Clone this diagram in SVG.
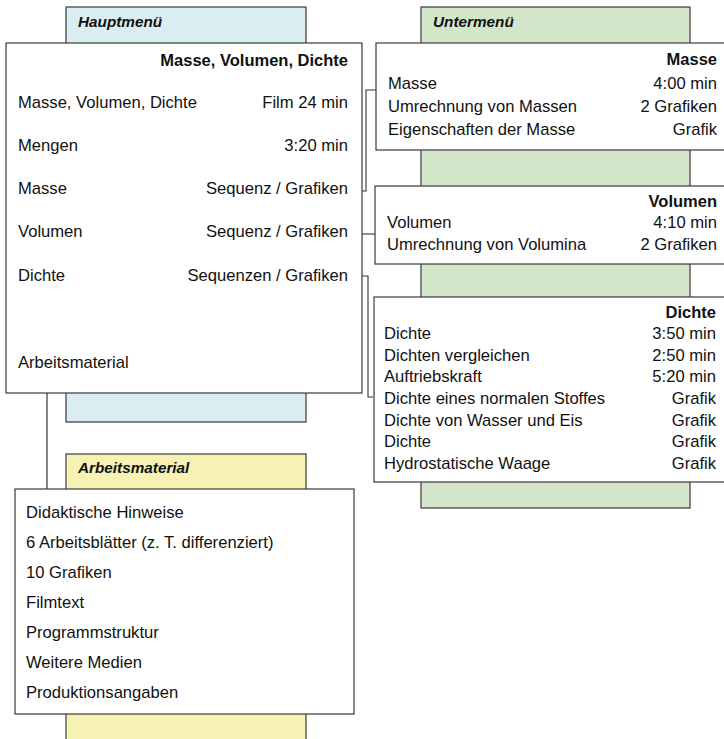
<svg xmlns="http://www.w3.org/2000/svg" width="724" height="739" viewBox="0 0 724 739">
<style>
.tab{stroke:#3a3a3a;stroke-width:1.2}
.box{fill:#fff;stroke:#3a3a3a;stroke-width:1.2}
text{font-family:"Liberation Sans",Arial,sans-serif;fill:#111}
.t{font-size:16.6px}
.r{font-size:16.6px;text-anchor:end}
.h{font-size:16.5px;font-weight:bold;text-anchor:end}
.lab{font-size:15.3px;font-weight:bold;font-style:italic}
.c{fill:none;stroke:#333;stroke-width:1.1}
.cg{fill:none;stroke:#666;stroke-width:1.6}
</style>
<g id="tabs">
<rect id="tab-haupt" class="tab" x="66" y="7" width="240" height="415" fill="#daedf0"/>
<rect id="tab-unter" class="tab" x="421" y="7" width="269" height="501" fill="#d4e6c9"/>
<rect id="tab-arbeit" class="tab" x="66" y="454" width="240" height="300" fill="#f7f2b3"/>
<text class="lab" x="78" y="27">Hauptmenü</text>
<text class="lab" x="433" y="27">Untermenü</text>
<text class="lab" x="78" y="473">Arbeitsmaterial</text>
</g>
<g id="connectors">
<path class="cg" d="M47 393 V489"/>
<path class="c" d="M362 191 H366 V90 H376"/>
<path class="c" d="M362 234 H375"/>
<path class="c" d="M362 276 H368 V397 H373"/>
</g>
<g id="hauptmenue">
<rect class="box" x="6" y="43" width="356" height="350"/>
<text class="h" x="348" y="66">Masse, Volumen, Dichte</text>
<text class="t" x="18" y="108">Masse, Volumen, Dichte</text><text class="r" x="348" y="108">Film 24 min</text>
<text class="t" x="18" y="151">Mengen</text><text class="r" x="348" y="151">3:20 min</text>
<text class="t" x="18" y="194">Masse</text><text class="r" x="348" y="194">Sequenz / Grafiken</text>
<text class="t" x="18" y="237">Volumen</text><text class="r" x="348" y="237">Sequenz / Grafiken</text>
<text class="t" x="18" y="281">Dichte</text><text class="r" x="348" y="281">Sequenzen / Grafiken</text>
<text class="t" x="18" y="368">Arbeitsmaterial</text>
</g>
<g id="masse">
<rect class="box" x="376" y="43" width="360" height="107"/>
<text class="h" x="717" y="65">Masse</text>
<text class="t" x="388" y="89">Masse</text><text class="r" x="717" y="89">4:00 min</text>
<text class="t" x="388" y="112">Umrechnung von Massen</text><text class="r" x="717" y="112">2 Grafiken</text>
<text class="t" x="388" y="135">Eigenschaften der Masse</text><text class="r" x="717" y="135">Grafik</text>
</g>
<g id="volumen">
<rect class="box" x="375" y="186" width="360" height="78"/>
<text class="h" x="717" y="207">Volumen</text>
<text class="t" x="387" y="228">Volumen</text><text class="r" x="717" y="228">4:10 min</text>
<text class="t" x="387" y="250">Umrechnung von Volumina</text><text class="r" x="717" y="250">2 Grafiken</text>
</g>
<g id="dichte">
<rect class="box" x="374" y="297" width="360" height="185"/>
<text class="h" x="716" y="318">Dichte</text>
<text class="t" x="384" y="339">Dichte</text><text class="r" x="716" y="339">3:50 min</text>
<text class="t" x="384" y="361">Dichten vergleichen</text><text class="r" x="716" y="361">2:50 min</text>
<text class="t" x="384" y="382">Auftriebskraft</text><text class="r" x="716" y="382">5:20 min</text>
<text class="t" x="384" y="404">Dichte eines normalen Stoffes</text><text class="r" x="716" y="404">Grafik</text>
<text class="t" x="384" y="426">Dichte von Wasser und Eis</text><text class="r" x="716" y="426">Grafik</text>
<text class="t" x="384" y="447">Dichte</text><text class="r" x="716" y="447">Grafik</text>
<text class="t" x="384" y="469">Hydrostatische Waage</text><text class="r" x="716" y="469">Grafik</text>
</g>
<g id="arbeitsmaterial">
<rect class="box" x="15" y="489" width="339" height="225"/>
<text class="t" x="26" y="518">Didaktische Hinweise</text>
<text class="t" x="26" y="548">6 Arbeitsblätter (z. T. differenziert)</text>
<text class="t" x="26" y="578">10 Grafiken</text>
<text class="t" x="26" y="608">Filmtext</text>
<text class="t" x="26" y="638">Programmstruktur</text>
<text class="t" x="26" y="668">Weitere Medien</text>
<text class="t" x="26" y="698">Produktionsangaben</text>
</g>
</svg>
